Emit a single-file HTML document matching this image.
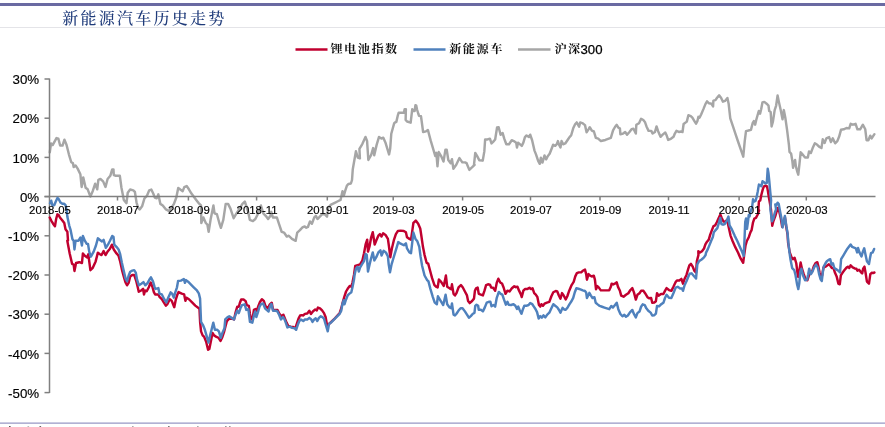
<!DOCTYPE html>
<html lang="zh"><head><meta charset="utf-8"><title>新能源汽车历史走势</title>
<style>
html,body{margin:0;padding:0;background:#fff;}
body{width:885px;height:427px;overflow:hidden;position:relative;font-family:"Liberation Sans","Noto Sans CJK SC",sans-serif;}
svg{position:absolute;left:0;top:0;display:block}
.ax{font-family:"Liberation Sans",sans-serif;fill:#000;}
.kai{font-family:"Liberation Serif","Noto Serif CJK SC",serif;}
</style></head><body>
<svg width="885" height="427" viewBox="0 0 885 427">
<rect x="0" y="0" width="885" height="427" fill="#fff"/>
<rect x="0" y="3" width="885" height="3" fill="#6a6aa2"/>
<rect x="0" y="27" width="885" height="1" fill="#e4e4e8"/>
<rect x="0" y="422.4" width="885" height="1.5" fill="#a9a9cf"/>
<rect x="9" y="426" width="1.6" height="1" fill="#555"/>
<rect x="27.5" y="426" width="1.6" height="1" fill="#bbb"/>
<rect x="39.5" y="426" width="1.6" height="1" fill="#666"/>
<rect x="132" y="426" width="1.6" height="1" fill="#aaa"/>
<rect x="168" y="426" width="1.6" height="1" fill="#777"/>
<rect x="197" y="426" width="1.6" height="1" fill="#aaa"/>
<rect x="225" y="426" width="1.6" height="1" fill="#999"/>
<rect x="229" y="426" width="1.6" height="1" fill="#999"/>
<text class="kai" x="62.2" y="23.6" font-size="16" letter-spacing="2.26" font-weight="500" fill="#1f3b7a">新能源汽车历史走势</text>
<line x1="295.5" y1="49.4" x2="327.5" y2="49.4" stroke="#c0002f" stroke-width="2.5"/>
<text class="kai" transform="translate(330.4 53.4) scale(1.13 1)" font-size="10.8" letter-spacing="1.3" font-weight="700" fill="#111">锂电池指数</text>
<line x1="413.5" y1="49.4" x2="445.5" y2="49.4" stroke="#4f81bd" stroke-width="2.5"/>
<text class="kai" transform="translate(449.2 53.4) scale(1.13 1)" font-size="10.8" letter-spacing="1.3" font-weight="700" fill="#111">新能源车</text>
<line x1="518" y1="49.4" x2="550.5" y2="49.4" stroke="#a6a6a6" stroke-width="2.5"/>
<text class="kai" transform="translate(554.4 53.4) scale(1.13 1)" font-size="10.8" letter-spacing="1.3" font-weight="700" fill="#111">沪深</text><text class="ax" x="580.5" y="53.8" font-size="13.2" stroke="#000" stroke-width="0.25">300</text>
<g fill="none" stroke-linejoin="round" stroke-linecap="round">
<polyline stroke="#a6a6a6" stroke-width="2.45" points="49.78,152.39 51.05,143.47 52.64,145.06 54.56,141.56 56.47,138.05 58.38,138.69 60.13,145.54 62.52,145.54 64.43,139.64 66.5,144.74 68.89,154.3 71.28,162.26 72.87,163.06 73.67,167.04 75.58,165.44 77.65,168.63 80.36,174.2 81.63,186.95 83.22,177.39 85.61,187.74 87.68,189.33 90.39,196.5 92.78,190.93 95.17,183.76 97.24,189.33 98.35,179.78 100.42,178.98 103.13,181.37 105.52,186.95 107.59,178.98 110.3,175.8 112.21,169.43 113.48,169.43 113.8,175 115.87,175.8 119.85,175.8 121.45,187.74 123.04,195.7 123.76,199.91 126.47,203.09 127.74,192.74 130.13,189.56 133.32,190.35 134.91,191.94 136.5,202.3 138.09,207.87 139.69,209.46 142.07,206.28 144.46,198.32 146.85,195.93 149.24,190.35 151.31,189.56 153.22,193.54 154.82,197.52 156.73,198.32 158.32,194.33 160.39,203.89 162.78,205.48 165.96,209.46 169.15,211.06 173.93,203.89 176.32,197.52 178.23,187.96 180.3,189.56 182.69,191.15 184.28,187.17 186.67,186.05 189.06,189.56 191.45,193.54 193.83,196.72 196.22,199.91 198.61,203.09 201,205.48 201.32,223 203.39,217.43 205.78,223 207.37,224.59 208.65,231.76 210.56,219.82 212.47,210.26 213.42,205.48 214.54,213.44 216.93,214.24 219.32,223 220.91,227.78 223.3,219.82 225.69,203.89 228.08,203.89 230.46,208.67 233.65,218.22 236.04,214.24 238.43,210.26 242.41,203.89 244.8,201.5 248.19,211.85 249.78,219.82 252.96,221.09 255.35,219.02 257.74,214.24 259.33,209.46 260.93,205.48 263.32,213.44 265.7,215.83 268.09,219.02 270.48,215.83 271.28,211.85 272.87,217.43 276.85,217.43 279.24,224.59 281.63,231.76 284.02,232.56 286.73,236.54 288.8,235.74 291.98,238.93 295.65,240.84 297.24,232.56 299.95,230.17 302.33,227.46 304.72,226.5 306.32,227.78 307.91,226.98 309.98,221.41 311.89,223.8 314.28,217.43 315.87,215.83 317.46,219.02 319.85,216.63 322.24,214.24 324.63,214.24 327.02,216.63 328.13,207.87 331,204.69 334.19,203.09 337.37,201.5 340.56,199.91 342.47,191.15 343.74,195.93 345.33,190.35 346.93,185.57 348.52,183.98 350.91,183.5 352.02,180 352.74,169.56 355.93,151.24 357.84,157.61 359.91,158.41 359.43,148.85 362.3,144.07 365.48,136.91 367.07,140.89 368.35,160 371.06,155.22 373.13,148.06 374.24,155.22 376.63,144.87 379.02,136.91 381.41,138.5 383.32,137.7 385.39,142.48 389.05,154.43 390.17,148.85 391.28,133.72 394.15,123.37 394.73,122.66 396.33,121.86 397.92,115.09 398.71,112.71 400.71,112.71 403.89,112.71 404.69,109.12 405.88,109.12 405.64,119.87 407.08,121.47 410.66,122.66 411.46,115.89 412.25,109.12 413.45,111.11 414.64,111.11 415.44,105.14 416.23,105.54 417.03,109.52 418.23,113.5 419.02,115.89 421.01,116.29 421.81,122.26 423.13,132.13 426,131.33 427.91,130.06 430.78,140.89 433.17,148.85 435.24,156.02 436.35,152.83 437.47,166.37 438.74,152.04 441.13,156.02 443.52,161.59 445.43,149.65 446.7,149.65 448.3,160 450.69,163.19 451.96,159.2 453.39,168.76 456.26,164.78 459.45,158.09 462.31,162.39 465.02,162.39 466.61,163.19 469.32,169.87 472.19,167.17 474.58,164.78 473.98,164.95 475.26,153 477.17,156.19 479.24,160.17 482.74,160.65 484.33,151.41 485.13,139.46 487.52,139.46 489.91,138.67 491.5,143.44 493.09,141.85 495.16,139.46 497.07,127.52 498.67,127.2 500.58,134.69 502.65,133.09 504.24,138.67 506.31,144.24 509.02,144.24 511.73,140.26 513.8,141.06 516.19,142.65 516.98,147.43 518.1,142.65 521.76,145.83 523.35,142.65 524.95,137.07 526.54,135.48 528.93,137.07 530.2,134.69 532.11,140.26 534.5,150.61 536.09,154.59 538.16,160.96 539.76,163.83 540.87,157.78 542.46,162.56 544.53,155.39 546.13,159.37 547.72,156.19 549.63,153.8 551.22,149.82 553.13,144.72 555.2,145.83 556.8,144.24 557.91,141.06 559.19,145.04 560.46,147.43 561.58,141.06 563.17,144.24 565.24,143.44 567.95,139.46 569.54,137.07 571.13,135.48 573.2,128.32 575.11,124.33 576.7,122.42 579.09,126.72 580.21,122.42 582.28,123.06 584.99,125.13 586.58,132.3 588.65,129.11 589.76,127.2 591.83,130.7 593.91,131.5 595.82,137.87 598.21,138.67 600.91,141.06 605.37,139.94 610.83,137.87 613.06,130.39 615.13,126.73 616.72,124.82 618.32,127.68 619.91,128.32 620.39,134.37 623.09,133.57 625.16,131.98 627.07,134.69 629.46,131.98 631.53,129.27 633.44,128.8 635.83,133.57 636.31,124.82 639.02,123.22 641.09,118.76 643.32,120.04 644.91,121.95 646.5,126.41 648.57,130.87 651.28,130.87 652.56,133.57 654.95,131.98 656.54,126.41 658.13,131.19 660.52,136.76 662.91,134.37 665.3,132.46 666.57,135.17 668.16,139.95 670.87,138.83 673.58,136.76 674.85,133.57 676.45,130.87 678.83,131.98 681.22,131.5 682.5,131.98 683.61,124.02 686.8,121.63 688.39,115.26 690.78,116.06 692.37,117.65 694.28,120.83 696.03,123.7 697.47,120.83 698.42,116.85 699.54,117.65 701.13,114.46 703.52,108.89 705.43,104.11 707.02,101.4 709.09,103.32 711.48,103.79 713.08,106.5 713.39,100.61 715.46,100.13 717.06,97.74 719.13,95.35 721.04,97.74 722.95,101.72 725.02,100.93 727.41,98.06 728.68,104.11 730.28,118.44 732.98,126.41 735.37,133.57 737.76,140.74 743.26,156.67 744.73,141.14 746,131.1 748.38,130.55 750.94,129.82 752.76,122.88 753.86,121.05 755.14,124.7 756.42,119.22 758.79,111 760.07,113.74 761.16,109.18 762.44,102.42 764.27,101.87 766.64,103.7 768.47,105.53 769.2,111 770.66,111.92 771.58,126.53 772.85,121.96 774.68,110.09 776.14,105.53 777.6,95.48 778.88,101.87 780.71,110.09 782.53,119.22 783.81,110.09 785.27,117.4 787.1,130.18 788.93,144.79 789.51,151.95 791.1,153.54 792.3,160.71 793.09,167.87 793.89,163.09 795.09,159.91 795.88,166.28 797.08,171.06 798.27,174.64 799.47,163.89 800.66,152.34 801.85,153.54 805.04,157.52 807.83,157.52 809.02,151.55 810.84,153.01 812.67,148.08 814.86,143.33 817.24,144.79 819.06,146.62 821.44,148.08 822.72,139.32 824.54,142.97 826.37,138.4 829.11,137.12 830.94,142.05 832.76,138.4 835.14,143.33 837.33,141.14 839.16,136.58 840.98,129.82 843.72,129.27 846.46,127.99 849.2,128.36 850.66,123.79 852.85,124.7 855.59,123.79 857.42,129.27 860.16,129.27 862.9,124.7 865.27,129.27 866.55,140.23 868.38,140.23 870.21,135.66 871.67,138.4 874.41,134.2"/>
</g>
<g stroke="#808080" stroke-width="1.5" fill="none">
<line x1="49.5" y1="78.5" x2="49.5" y2="393"/>
<line x1="44.5" y1="196.5" x2="875.5" y2="196.5"/>
<line x1="44.5" y1="79" x2="49.5" y2="79"/>
<line x1="44.5" y1="118.2" x2="49.5" y2="118.2"/>
<line x1="44.5" y1="157.4" x2="49.5" y2="157.4"/>
<line x1="44.5" y1="196.6" x2="49.5" y2="196.6"/>
<line x1="44.5" y1="235.8" x2="49.5" y2="235.8"/>
<line x1="44.5" y1="275" x2="49.5" y2="275"/>
<line x1="44.5" y1="314.2" x2="49.5" y2="314.2"/>
<line x1="44.5" y1="353.4" x2="49.5" y2="353.4"/>
<line x1="44.5" y1="392.6" x2="49.5" y2="392.6"/>
<line x1="117.5" y1="196.5" x2="117.5" y2="200.5"/>
<line x1="188.4" y1="196.5" x2="188.4" y2="200.5"/>
<line x1="256.6" y1="196.5" x2="256.6" y2="200.5"/>
<line x1="327.3" y1="196.5" x2="327.3" y2="200.5"/>
<line x1="393.2" y1="196.5" x2="393.2" y2="200.5"/>
<line x1="462.6" y1="196.5" x2="462.6" y2="200.5"/>
<line x1="530.5" y1="196.5" x2="530.5" y2="200.5"/>
<line x1="600" y1="196.5" x2="600" y2="200.5"/>
<line x1="668.5" y1="196.5" x2="668.5" y2="200.5"/>
<line x1="739.1" y1="196.5" x2="739.1" y2="200.5"/>
<line x1="806.3" y1="196.5" x2="806.3" y2="200.5"/>
</g>
<g fill="none" stroke-linejoin="round" stroke-linecap="round">
<polyline stroke="#c0002f" stroke-width="2.45" points="49.72,217.48 51.22,220.59 53.08,223.7 54.94,226.18 56.19,218.72 57.43,214.37 58.67,215 59.92,217.48 62.4,220.59 64.27,223.08 65.51,229.29 67.37,231.78 68,240.48 67.3,240.7 69.69,253.44 72.07,263.8 73.67,264.59 74.46,270.96 76.06,263 79.24,262.2 81.95,263 82.9,253.44 84.82,255.83 87.2,257.43 88.32,254.24 90.39,270.17 92.78,267.78 95.65,261.41 97.87,252.65 99.95,254.24 101.54,255.04 103.61,251.06 105.52,255.04 107.43,251.85 109.98,248.67 111.89,244.69 113.8,249.46 115.87,252.65 118.58,255.83 120.17,261.41 122.24,270.96 123.83,276.54 125.43,282.11 127.02,285.3 128.61,282.91 130.2,276.54 132.28,274.95 134.19,274.95 136.1,280.52 137.69,286.89 138.76,291.76 141.15,290.48 143.06,288.89 144.01,294.46 145.13,290.48 146.72,291.28 148.79,287.3 150.7,282.52 152.3,286.5 153.89,292.07 155.16,294.46 158.35,294.46 159.46,296.85 161.85,299.24 163.76,302.43 165.83,305.61 167.43,304.02 169.82,299.24 171.73,300.83 173,304.02 174.27,307.2 175.87,299.24 177.46,294.46 178.57,292.07 181.76,293.67 184.15,294.46 185.42,300.83 186.54,297.65 188.93,299.24 192.11,302.43 195.3,305.61 198.8,308.32 199.46,308.32 200.1,321.85 201.05,331.41 202.64,335.39 204.24,336.98 206.15,341.76 208.06,349.72 209.33,348.93 210.93,340.96 212.52,333 214.11,335.39 216.5,336.98 218.57,337.78 220.48,340.96 222.07,337.78 223.99,332.2 225.58,325.83 226.85,321.06 229.24,318.67 231.63,318.67 234.02,319.46 235.61,312.3 237.2,306.72 238.8,306.72 239.91,302.74 241.19,299.56 243.57,299.56 245.65,301.15 246.76,305.13 248.83,305.93 249.95,313.89 251.06,319.46 252.65,317.87 253.93,309.91 255.52,309.11 256.79,310.7 258.39,305.93 259.98,301.94 261.89,299.24 263.8,300.83 265.39,305.93 267.94,308.32 269.85,304.33 271.76,302.74 273.04,309.91 275.43,309.91 277.5,309.91 279.41,313.89 281.8,316.28 283.39,314.69 284.98,318.67 286.58,322.65 288.17,325.83 290.56,326.63 292.95,326.95 295.33,328.22 296.93,323.44 298.52,318.67 300.11,315.48 301.7,315.16 303.3,315.48 304.89,313.89 307.28,313.57 309.35,310.7 310.94,313.89 312.85,311.5 315.24,309.43 316.83,310.39 317.95,307.52 320.02,308.32 322.09,310.39 324,313.09 325.59,317.07 326.87,324.24 327.74,324.95 330.93,322.24 334.91,318.26 339.69,313 341.28,308.22 342.87,301.85 344.46,296.28 346.06,291.5 347.65,288.79 349.72,285.93 351.31,286.72 352.43,282.74 354.02,274.78 355.26,265.96 357.65,265.17 360.04,264.37 362.43,260.39 364.02,253.22 365.61,244.46 367.2,239.69 368,251.63 369.59,246.06 371.19,237.3 372.78,232.2 374.69,244.46 376.28,240.48 378.35,235.7 379.95,234.11 381.54,236.5 383.13,233.32 385.52,234.91 387.91,238.89 389.02,246.85 390.3,257.2 391.89,248.44 393.8,240.48 395.87,234.11 397.94,230.93 400.65,230.61 403.83,230.93 405.9,232.2 407.02,237.3 409.41,238.89 411,239.69 412.28,230.93 413.39,222.96 415.78,220.57 418.17,223.76 420.24,228.54 421.35,235.7 422.95,246.85 424.54,254.82 426.61,262.78 428.2,263.57 430.11,270.74 432.02,277.91 434.45,285.13 436.04,286.72 437.63,287.52 438.91,279.56 441.13,281.94 443.68,285.93 444.8,281.15 445.91,275.57 447.19,286.72 449.58,288.32 451.17,289.11 451.96,284.33 453.56,293.89 454.99,295.48 456.47,293.06 458.54,287.48 460.93,285.09 462.84,287.48 464.91,291.46 466.98,295.44 468.09,301.02 469.69,303.09 472.07,301.02 473.99,298.63 474.94,290.67 476.06,288.28 477.65,287.48 478.76,293.85 480.83,294.65 482.9,295.44 484.5,290.67 486.09,285.09 488,284.3 489.91,284.62 491.19,287.48 493.1,287.8 495.17,290.67 496.76,282.7 498.35,278.72 500.42,282.7 502.02,283.5 503.61,287.48 505.52,293.85 507.43,290.67 509.5,291.46 511.89,288.28 514.28,286.21 515.87,287.16 517.46,286.69 519.06,290.67 520.65,293.85 521.76,297.04 523.36,290.67 524.95,289.07 527.02,289.07 529.41,287.8 531,289.07 532.59,288.28 534.19,293.06 535.78,294.65 537.37,297.04 538.96,305 540.24,306.59 541.35,304.2 542.95,305.8 544.54,303.73 546.93,302.61 549.32,301.82 551.39,296.24 553.3,292.26 555.69,290.99 557.28,291.46 558.87,295.44 560.46,298.63 562.06,293.06 563.65,295.44 565.72,299.43 567.31,296.24 569.22,290.67 571.61,285.09 573.68,281.91 575.28,276.33 576.87,273.15 578.78,272.35 581.17,272.35 582.76,270.76 584.99,269.64 586.15,274.11 586.94,279.69 588.54,274.11 590.13,275.7 591.72,276.5 593.79,275.7 594.91,279.69 596.02,289.24 597.3,286.06 598.89,287.65 600.8,290.36 604.46,290.36 607.65,290.36 609.24,290.36 610.83,286.85 611.63,283.67 613.22,284.46 614.82,283.67 616.73,282.39 618,286.85 619.91,290.83 621.19,295.61 623.57,296.73 625.96,294.82 628.35,293.22 630.42,290.04 632.33,288.13 633.93,292.43 635.84,299.59 637.43,294.82 639.5,293.22 641.09,290.83 643.48,290.83 645.07,293.22 647.46,297.2 649.06,298.32 651.13,298 652.24,302.78 654.31,302.46 655.9,301.19 657.02,293.22 658.61,295.61 661,294.02 663.39,294.02 664.98,290.83 666.58,288.13 668.96,290.04 671.35,290.83 673.42,286.85 675.65,282.07 676.93,280.48 679.32,280.48 681.39,278.89 682.98,283.67 684.57,278.89 686.48,274.91 688.08,269.33 689.35,265.35 690.94,263.76 692.85,266.94 694.45,270.93 696.04,272.52 696.83,261.37 698.43,255 698.32,251.21 699.68,252.57 701.99,251.21 704.03,248.49 705.39,244.41 707.02,241.69 708.78,239.66 710.14,234.9 711.91,230.14 713.54,226.07 715.17,225.39 716.94,221.99 718.7,217.91 720.34,214.51 721.69,217.91 723.33,221.31 725.09,221.99 727.13,219.95 728.76,227.42 730.53,235.58 732.57,241.02 735.29,247.13 738,252.57 740.72,258.68 743.17,262.76 744.12,255.29 745.48,245.77 746.84,241.02 748.88,236.94 750.51,232.18 751.59,230.14 752.95,222.67 754.31,218.59 755.94,217.91 757.71,214.51 759.07,210.44 758.33,210.02 758.9,201.55 760.25,200.42 761.38,194.77 762.85,189.12 763.98,186.29 765.68,185.73 767.03,186.29 767.94,191.38 768.84,197.03 769.86,202.68 770.99,209.46 771.57,217.23 772.25,225.79 773.34,221.31 775.38,215.87 777.14,209.76 778.1,207.72 779.46,212.47 780.81,218.59 782.17,226.75 783.53,222.67 784.89,217.23 786.25,226.75 787.61,234.9 788.1,242.87 789.73,252.39 791.5,257.14 792.86,259.18 794.63,257.82 796.26,263.26 797.62,274.13 798.3,276.85 799.66,268.69 800.61,262.58 801.97,268.69 803.73,274.13 805.77,279.57 807.4,280.25 808.49,276.85 809.85,272.77 811.89,272.09 813.93,265.98 815.56,262.99 817.32,262.17 818.28,265.98 819.63,272.77 820.99,278.21 822.08,275.49 823.44,267.61 825.48,266.66 827.52,265.3 828.88,264.35 830.51,265.98 831.87,268.02 833.63,268.42 834.99,272.77 836.76,276.85 838.39,283.64 839.75,284.32 840.84,275.49 842.47,272.77 844.51,270.05 846.54,267.61 848.17,266.66 849.26,268.02 850.62,265.3 852.66,267.34 854.7,268.42 856.33,268.69 857.42,270.73 859.05,269.78 860.81,272.09 862.17,273.45 863.12,268.69 864.48,266.66 865.57,272.77 866.93,281.61 868.97,283.64 870.33,274.13 871.69,272.77 873.05,273.04 874.4,272.5"/>
<polyline stroke="#4f81bd" stroke-width="2.45" points="49.97,203.19 51.22,200.7 52.46,205.67 54.32,205.05 55.57,201.94 57.43,197.97 58.92,199.46 60.54,202.57 62.4,203.81 64.27,203.81 65.51,205.05 66.75,210.65 67.37,216.86 69.24,225.56 70.48,229.56 72.39,239.11 73.67,240.7 74.46,249.46 75.58,240.7 78.44,240.7 80.36,237.52 81.95,245.48 82.9,235.93 84.82,240.7 86.73,243.89 88,243.89 89.27,251.85 90.87,256.63 93.57,251.85 95.96,245.48 97.87,238.32 99.95,239.91 102.02,241.5 103.61,239.91 105.84,247.87 107.91,244.69 109.98,240.7 112.21,235.93 113.48,236.72 114.28,244.69 116.67,247.07 118.58,249.46 120.17,254.24 121.76,262.2 123.36,269.37 125.43,278.13 127.02,281.32 128.61,275.74 130.2,271.76 132.28,270.65 134.19,270.17 135.78,272.56 137.05,279.72 138.96,285.3 141.35,283.7 143.42,282.11 145.33,285.3 147.72,282.91 149.32,279.72 150.91,277.33 152.98,281.32 154.57,286.89 155.48,288.89 158.35,288.09 159.46,293.67 161.85,294.46 164.24,299.24 166.31,302.43 168.22,297.65 170.61,292.39 172.2,293.67 173.8,297.65 175.39,292.07 176.98,287.3 178.1,280.93 180.96,280.61 183.83,279.01 184.95,282.84 186.06,280.13 188.13,281.72 190.52,284.11 193.7,287.3 196.89,290.48 198.8,293.35 200.07,298.44 200.57,310.7 201.05,321.85 202.96,325.04 204.87,329.82 206.47,335.39 208.54,342.56 210.13,335.39 211.72,329.02 213.32,322.65 214.91,329.82 217.3,329.82 218.89,331.41 220.8,337.78 222.39,333 224.46,328.22 225.26,319.46 227.65,317.07 229.24,316.28 231.63,317.87 234.02,319.46 235.61,314.69 237.2,310.7 238.8,313.09 240.39,308.32 241.98,305.13 244.69,304.33 246.28,309.91 248.35,309.11 249.95,321.85 252.33,322.65 253.93,315.48 255.2,311.5 256.32,317.07 257.91,312.3 259.5,306.72 261.09,304.01 263.16,303.54 265.07,308.32 266.67,309.91 268.58,311.5 270.17,305.93 271.45,304.01 273.04,310.7 275.43,310.7 277.5,311.5 279.41,315.48 281,319.46 282.91,317.07 284.19,318.67 285.78,322.65 287.37,327.43 289.76,326.63 292.15,327.9 294.54,328.22 296.13,329.82 297.72,325.04 299.32,321.06 300.91,319.46 303.3,321.06 304.89,319.46 307.28,319.46 309.35,317.87 311.26,319.46 312.53,321.85 314.13,319.46 315.72,318.35 317.31,321.06 318.91,317.87 320.82,316.28 322.41,317.07 324,318.67 325.59,324.24 327.74,331.32 329.01,324.15 330.93,322.56 334.91,318.57 339.69,313.8 341.28,310.61 342.39,304.24 343.67,300.26 344.46,304.24 346.06,299.46 347.65,295.48 349.24,293.89 351.31,292.3 352.43,287.52 354.02,279.56 354.46,275.52 356.06,268.35 357.65,266.76 358.76,271.54 360.04,267.56 361.95,264.37 364.02,261.19 365.61,254.02 366.73,254.82 368,271.54 369.59,264.37 371.19,258 372.78,252.43 374.37,260.39 376.28,257.2 378.35,252.43 380.42,250.36 381.54,255.61 383.61,250.83 385.84,252.43 387.91,256.41 388.7,264.37 389.98,272.33 391.57,264.37 393.48,258 395.87,250.04 398.26,242.07 400.65,243.67 403.83,245.26 405.9,243.35 407.02,248.44 409.41,252.43 411,253.22 412.28,242.07 413.39,232.52 415.46,238.89 417.37,241.28 419.28,246.85 420.56,256.41 422.15,265.96 424.54,275.52 427.28,280.35 428.39,281.15 430.46,289.11 432.85,297.07 434.76,302.65 436.83,304.24 437.95,296.28 440.82,301.06 443.21,305.04 444.32,300.26 445.59,294.69 447.19,304.24 449.58,307.43 451.17,308.22 451.96,303.44 453.56,314.59 454.99,315.39 456.47,313.76 458.54,310.57 460.61,308.19 462.52,308.19 464.91,311.37 466.98,314.56 468.89,317.74 470.8,316.15 472.87,313.76 474.46,312.96 475.26,305.8 476.53,304.68 478.13,305.8 478.76,309.78 480.83,309.78 482.9,311.37 484.82,307.39 486.73,302.61 488.8,301.82 490.39,301.82 491.5,306.27 493.57,305 495.17,306.59 496.76,297.83 498.83,291.94 500.74,293.85 502.33,294.65 503.93,299.43 505.84,304.68 507.43,301.82 508.7,304.68 511.09,305 513.48,304.2 515.39,305.8 516.99,308.98 518.26,306.59 519.53,309.78 521.45,313.76 523.04,308.98 524.31,305.8 526.22,305.8 528.61,305 530.2,303.09 532.28,304.2 533.87,306.59 535.46,308.98 537.05,312.17 538.65,318.54 540.24,316.15 541.83,317.74 543.42,315.35 545.33,317.42 547.25,314.56 549.32,312.65 551.39,308.19 553.3,304.2 555.21,305.8 557.28,307.39 558.87,309.78 560.46,312.65 562.53,307.87 564.13,309.46 565.72,309.78 567.63,307.39 569.54,304.2 571.61,301.02 573.21,297.83 574.8,292.26 576.39,288.28 578.46,288.76 580.37,289.39 582.76,290.35 584.99,290.99 586.15,292.43 586.94,298 589.33,292.9 590.93,295.61 592.52,298 594.43,297.2 595.7,302.78 597.62,304.37 599.69,305.96 602.07,306.76 604.46,307.56 606.85,308.35 609.24,309.15 611.31,305.96 612.9,307.56 614.82,305.17 616.73,302.78 618.32,309.15 620.39,313.93 622.46,316.32 624.37,314.72 625.96,316.79 627.87,315.52 629.95,312.33 632.33,309.95 633.93,313.93 635.84,317.43 637.43,313.13 639.5,311.54 641.09,306.76 642.69,304.37 644.76,305.17 646.35,308.35 648.26,310.74 650.65,312.65 652.24,315.52 654.31,315.2 655.9,313.61 657.02,305.96 659.09,306.28 661,304.37 663.39,302.78 664.98,298 666.58,294.82 668.96,297.68 671.35,298 673.42,293.22 675.65,287.65 677.72,286.85 680.11,288.44 682.02,288.44 682.98,290.83 684.57,285.26 686.48,281.28 688.08,277.3 689.67,273.79 691.58,273.32 693.65,275.7 696.04,278.57 697.31,264.56 698.91,261.37 701.61,259.46 704,257.39 705.59,255 706.07,252.57 707.83,249.17 709.46,245.09 711.09,241.02 712.86,236.94 713.81,232.18 715.58,230.14 717.35,228.1 718.98,222.67 720.34,217.91 721.42,224.03 723.05,224.71 724.68,224.03 726.45,221.31 728.49,216.55 729.58,225.39 731.89,229.46 734.61,235.58 737.32,241.02 740.04,247.13 742.08,251.89 743.71,255.96 744.53,238.98 745.21,221.99 746.02,218.45 746.97,228.78 747.92,221.99 748.74,215.06 749.56,216.55 750.51,211.8 752.12,207.2 753.02,199.29 754.15,201.55 755.51,200.98 756.64,197.03 757.77,191.38 758.9,184.6 760.25,185.16 761.38,186.29 762.51,181.21 763.98,182.34 765.45,183.47 766.81,182.9 767.71,168.78 768.5,173.3 769.29,181.21 770.2,191.38 771.1,200.42 770.35,209.08 770.89,213.15 771.98,221.31 773.34,218.59 774.7,213.15 776.06,209.08 775.28,204.37 776.41,204.94 777.54,202.68 778.67,203.81 780.13,211.8 781.49,218.59 782.58,227.42 783.94,221.31 784.89,215.87 786.25,225.39 787.61,233.54 788.38,242.87 789.46,252.39 790.55,259.86 792.18,268.02 794.22,270.05 795.58,275.49 796.94,283.64 798.3,289.08 799.25,283.64 800.34,271.41 801.42,268.69 803.05,275.49 805.09,280.25 807.13,279.57 808.22,274.13 809.17,268.69 810.94,274.13 812.57,271.41 814.2,267.34 815.96,264.62 817.73,267.34 819.09,274.13 820.72,279.57 821.81,280.93 822.76,272.77 823.71,266.66 825.48,263.26 826.84,261.22 828.6,259.86 830.24,259.18 831.59,264.62 832.95,263.26 834.31,268.02 836.35,269.37 838.39,270.73 840.02,272.5 841.11,259.18 843.15,255.78 845.18,252.39 847.22,248.99 849.26,246.27 850.62,244.5 852.25,246.95 854.02,247.63 855.79,248.31 857.14,252.39 858.1,248.04 859.46,252.39 861.49,256.46 862.85,251.71 864.21,248.31 865.57,255.1 866.93,261.22 868.97,263.94 869.92,258.5 871.01,253.07 872.64,252.39 874.13,248.99"/>
</g>
<g class="ax" font-size="13.6" text-anchor="end" stroke="#000" stroke-width="0.15">
<text transform="translate(39.2 84.1) scale(0.98 1)">30%</text>
<text transform="translate(39.2 123.3) scale(0.98 1)">20%</text>
<text transform="translate(39.2 162.5) scale(0.98 1)">10%</text>
<text transform="translate(39.2 201.7) scale(0.98 1)">0%</text>
<text transform="translate(39.2 240.9) scale(0.98 1)">-10%</text>
<text transform="translate(39.2 280.1) scale(0.98 1)">-20%</text>
<text transform="translate(39.2 319.3) scale(0.98 1)">-30%</text>
<text transform="translate(39.2 358.5) scale(0.98 1)">-40%</text>
<text transform="translate(39.2 397.7) scale(0.98 1)">-50%</text>
</g>
<g class="ax" font-size="11.4" text-anchor="middle" stroke="#000" stroke-width="0.15">
<text x="50" y="214.1">2018-05</text>
<text x="118" y="214.1">2018-07</text>
<text x="188.9" y="214.1">2018-09</text>
<text x="257.1" y="214.1">2018-11</text>
<text x="327.8" y="214.1">2019-01</text>
<text x="393.7" y="214.1">2019-03</text>
<text x="463.1" y="214.1">2019-05</text>
<text x="531" y="214.1">2019-07</text>
<text x="600.5" y="214.1">2019-09</text>
<text x="669" y="214.1">2019-11</text>
<text x="739.6" y="214.1">2020-01</text>
<text x="806.8" y="214.1">2020-03</text>
</g>
</svg></body></html>
